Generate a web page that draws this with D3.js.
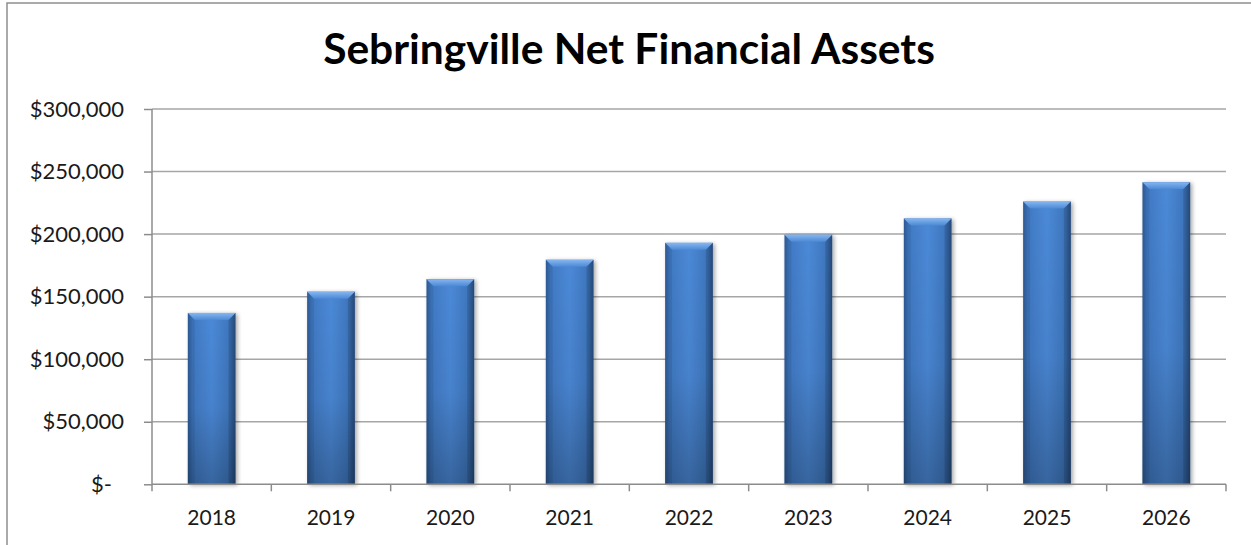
<!DOCTYPE html>
<html><head><meta charset="utf-8">
<script src="https://cdn.jsdelivr.net/npm/d3@7"></script>
<style>
html,body{margin:0;padding:0;background:#fff;overflow:hidden}
svg{display:block}
</style></head>
<body>
<script>
const years = ["2018","2019","2020","2021","2022","2023","2024","2025","2026"];
const assets = [137000,154000,164000,179500,193000,199500,212500,226000,241500];
const yTicks = [0,50000,100000,150000,200000,250000,300000];
const title = "Sebringville Net Financial Assets";

const W = 1251, H = 545;
const plot = {left:152, right:1226, top:109, bottom:484.3};
const font = "Lato, 'Open Sans', sans-serif";

const svg = d3.select("body").append("svg").attr("width",W).attr("height",H);
const defs = svg.append("defs");

const gH = defs.append("linearGradient").attr("id","barH").attr("x1","0").attr("x2","1").attr("y1","0").attr("y2","0");
[["0%","#30609f"],["10%","#4079c3"],["50%","#4b89d7"],["88%","#3e76bd"],["100%","#2a558e"]]
  .forEach(([o,c])=>gH.append("stop").attr("offset",o).attr("stop-color",c));
const gV = defs.append("linearGradient").attr("id","barV").attr("x1","0").attr("x2","0").attr("y1","0").attr("y2","1");
[["0%","#000",0],["55%","#000",0.05],["100%","#000",0.26]]
  .forEach(([o,c,a])=>gV.append("stop").attr("offset",o).attr("stop-color",c).attr("stop-opacity",a));
const gT = defs.append("linearGradient").attr("id","bevel").attr("x1","0").attr("x2","0").attr("y1","0").attr("y2","1");
[["0%","#86b6f0"],["100%","#4c89d5"]]
  .forEach(([o,c])=>gT.append("stop").attr("offset",o).attr("stop-color",c));
const f = defs.append("filter").attr("id","shadow").attr("x","-20%").attr("y","-10%").attr("width","150%").attr("height","130%");
f.append("feGaussianBlur").attr("in","SourceAlpha").attr("stdDeviation",2.2);
f.append("feOffset").attr("dx",2).attr("dy",1).attr("result","b");
f.append("feComponentTransfer").append("feFuncA").attr("type","linear").attr("slope",0.35);
const m = f.append("feMerge"); m.append("feMergeNode"); m.append("feMergeNode").attr("in","SourceGraphic");

// outer chart border (cropped at right/bottom)
svg.append("rect").attr("x",7).attr("y",3).attr("width",1300).attr("height",600)
  .attr("fill","#fff").attr("stroke","#8e8e8e").attr("stroke-width",1.5);

svg.append("text").attr("x",629).attr("y",64).attr("text-anchor","middle")
  .attr("font-family",font).attr("font-weight","bold").attr("font-size",42.5)
  .attr("fill","#000").text(title);

const x = d3.scaleBand().domain(years).range([plot.left,plot.right]).paddingInner(0.6).paddingOuter(0.3);
const y = d3.scaleLinear().domain([0,300000]).range([plot.bottom,plot.top]);

// gridlines
svg.append("g").selectAll("line").data(yTicks.filter(d=>d>0)).join("line")
  .attr("x1",plot.left).attr("x2",plot.right).attr("y1",d=>y(d)).attr("y2",d=>y(d))
  .attr("stroke","#a6a6a6").attr("stroke-width",1.5);

// y axis
const fmt = d => d===0 ? "$-" : "$" + d3.format(",")(d);
const yAxis = svg.append("g").attr("transform",`translate(${plot.left},0)`)
  .call(d3.axisLeft(y).tickValues(yTicks).tickSize(8).tickPadding(20).tickFormat(fmt));
yAxis.select(".domain").attr("stroke","#8c8c8c").attr("stroke-width",1.5).attr("d",`M-0,${plot.top}V${plot.bottom}`);
yAxis.selectAll(".tick line").attr("stroke","#8c8c8c").attr("stroke-width",1.5);
yAxis.selectAll(".tick text").attr("font-family",font).attr("font-size",22).attr("fill","#1a1a1a")
  .attr("dx",d=>d===0?-12:0);

// bars
const bars = svg.append("g");
const bw = x.bandwidth();
years.forEach((yr,i)=>{
  const v = assets[i];
  const bx = x(yr), by = y(v), bh = y(0)-y(v);
  const g = bars.append("g");
  g.append("rect").attr("x",bx).attr("y",by).attr("width",bw).attr("height",bh)
    .attr("fill","url(#barH)").attr("filter","url(#shadow)");
  g.append("rect").attr("x",bx).attr("y",by).attr("width",bw).attr("height",bh).attr("fill","url(#barV)");
  const bv = 7;
  g.append("path").attr("d",`M${bx},${by}H${bx+bw}L${bx+bw-bv},${by+bv}H${bx+bv}Z`).attr("fill","url(#bevel)");
  g.append("path").attr("d",`M${bx},${by}L${bx+bv},${by+bv}V${by+bh}H${bx}Z`).attr("fill","#000").attr("opacity",0.07);
  g.append("path").attr("d",`M${bx+bw},${by}L${bx+bw-bv},${by+bv}V${by+bh}H${bx+bw}Z`).attr("fill","#000").attr("opacity",0.14);
});

// x axis
const xAxis = svg.append("g").attr("transform",`translate(0,${plot.bottom})`)
  .call(d3.axisBottom(x).tickSize(0).tickPadding(26));
xAxis.select(".domain").attr("stroke","#8c8c8c").attr("stroke-width",1.5).attr("d",`M${plot.left},0H${plot.right}`);
xAxis.selectAll(".tick text").attr("font-family",font).attr("font-size",21).attr("fill","#1a1a1a");
const step = x.step();
xAxis.append("g").selectAll("line").data(d3.range(years.length+1)).join("line")
  .attr("x1",i=>plot.left+i*step).attr("x2",i=>plot.left+i*step).attr("y1",0).attr("y2",7)
  .attr("stroke","#8c8c8c").attr("stroke-width",1.5);
</script>
</body></html>
